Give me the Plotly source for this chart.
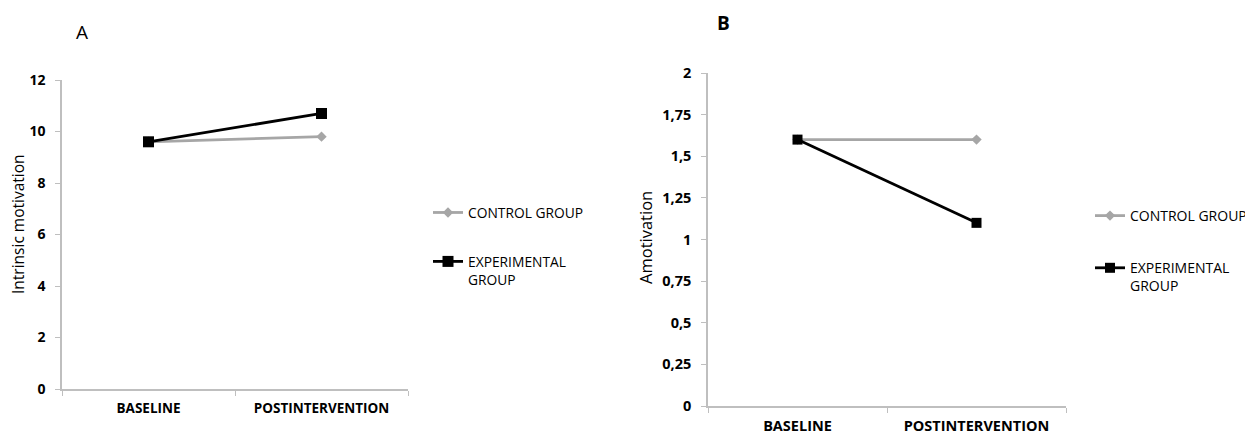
import plotly.graph_objects as go

categories = ["BASELINE", "POSTINTERVENTION"]
intrinsic_control = [9.6, 9.8]
intrinsic_experimental = [9.6, 10.7]
amotivation_control = [1.6, 1.6]
amotivation_experimental = [1.6, 1.1]
series_names = ["CONTROL GROUP", "EXPERIMENTAL<br>GROUP"]
a_ticks = [0, 2, 4, 6, 8, 10, 12]
b_ticks = [0, 0.25, 0.5, 0.75, 1, 1.25, 1.5, 1.75, 2]
b_ticktext = ["0", "0,25", "0,5", "0,75", "1", "1,25", "1,5", "1,75", "2"]

W, H = 1253, 435
OFF = 8  # page body margin offset
FONT = "Open Sans"
GRAY = "#a6a6a6"
AXIS = "#bfbfbf"


def fx(x):
    return (x - OFF) / W


def fy(y):
    return 1 - (y - OFF) / H


fig = go.Figure()


def ctrl_style():
    return dict(mode="lines+markers", line=dict(color=GRAY, width=2.8),
                marker=dict(symbol="diamond", size=8, color=GRAY))


def exp_style(sz):
    return dict(mode="lines+markers", line=dict(color="black", width=2.8),
                marker=dict(symbol="square", size=sz, color="black"))


fig.add_trace(go.Scatter(x=categories, y=intrinsic_control, name=series_names[0],
                         xaxis="x", yaxis="y", legend="legend", legendgroup="a1", **ctrl_style()))
fig.add_trace(go.Scatter(x=categories, y=intrinsic_experimental, name=series_names[1],
                         xaxis="x", yaxis="y", legend="legend", legendgroup="a2", **exp_style(11)))
fig.add_trace(go.Scatter(x=categories, y=amotivation_control, name=series_names[0],
                         xaxis="x2", yaxis="y2", legend="legend2", legendgroup="b1", **ctrl_style()))
fig.add_trace(go.Scatter(x=categories, y=amotivation_experimental, name=series_names[1],
                         xaxis="x2", yaxis="y2", legend="legend2", legendgroup="b2", **exp_style(10)))


def xax(domain, anchor, fs):
    return dict(domain=domain, anchor=anchor, type="category", range=[-0.5, 1.5],
                showline=True, linecolor=AXIS, linewidth=1.5, showgrid=False, zeroline=False,
                ticks="outside", tickson="boundaries", ticklen=5, tickcolor=AXIS,
                tickfont=dict(family=FONT, size=fs, color="black", weight="bold"),
                ticklabelstandoff=6, automargin=False)


def yax(domain, anchor, rng, tickvals, fs, ticktext=None):
    d = dict(domain=domain, anchor=anchor, range=rng, showline=True, linecolor=AXIS,
             linewidth=1.5, showgrid=False, zeroline=False, ticks="outside", ticklen=5,
             tickcolor=AXIS, tickvals=tickvals, automargin=False, ticklabelstandoff=7,
             tickfont=dict(family=FONT, size=fs, color="black", weight="bold"))
    if ticktext is not None:
        d["ticktext"] = ticktext
    return d


def legend_style(gap, fs):
    return dict(font=dict(family=FONT, size=fs, color="black"), bgcolor="rgba(0,0,0,0)",
                traceorder="grouped", tracegroupgap=gap, itemwidth=30, valign="top",
                xanchor="left", yanchor="top")


fig.update_layout(
    width=W, height=H, margin=dict(l=0, r=0, t=0, b=0, autoexpand=False),
    paper_bgcolor="white", plot_bgcolor="white", showlegend=True,
    xaxis=xax([fx(62), fx(408)], "y", 13.5),
    yaxis=yax([fy(389), fy(80)], "x", [0, 12], a_ticks, 14),
    xaxis2=xax([fx(708), fx(1066)], "y2", 14.5),
    yaxis2=yax([fy(406), fy(73)], "x2", [0, 2], b_ticks, 14.5, b_ticktext),
    legend=dict(x=fx(428), y=fy(197), **legend_style(28, 13.8)),
    legend2=dict(x=fx(1090), y=fy(200), **legend_style(31, 14)),
    annotations=[
        dict(text="A", x=fx(82), y=fy(32), xref="paper", yref="paper", showarrow=False,
             xanchor="center", yanchor="middle",
             font=dict(family=FONT, size=19, color="black")),
        dict(text="<b>B</b>", x=fx(723), y=fy(23), xref="paper", yref="paper", showarrow=False,
             xanchor="center", yanchor="middle",
             font=dict(family=FONT, size=19, color="black")),
        dict(text="Intrinsic motivation", x=fx(18), y=fy(224), xref="paper", yref="paper",
             showarrow=False, textangle=-90, xanchor="center", yanchor="middle",
             font=dict(family=FONT, size=15.5, color="black")),
        dict(text="Amotivation", x=fx(645), y=fy(238), xref="paper", yref="paper",
             showarrow=False, textangle=-90, xanchor="center", yanchor="middle",
             font=dict(family=FONT, size=16.5, color="black")),
    ],
)

fig.write_html("out.html")
